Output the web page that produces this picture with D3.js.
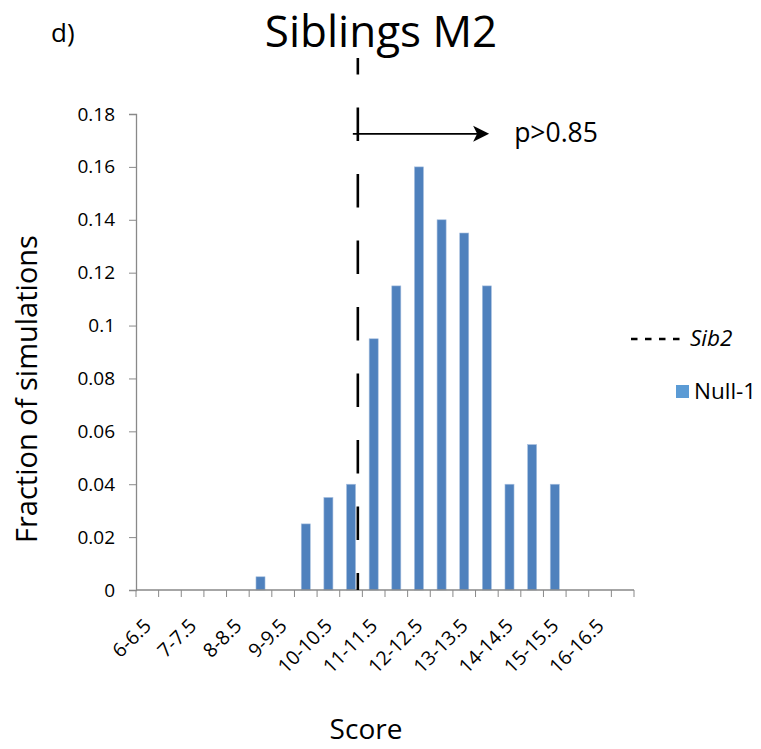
<!DOCTYPE html>
<html>
<head>
<meta charset="utf-8">
<script src="https://cdn.jsdelivr.net/npm/d3@7"></script>
<style>
  body { margin: 0; background: #fff; }
  text { font-family: "Open Sans", sans-serif; fill: #000; }
</style>
</head>
<body>
<script>
// score bins (width 0.5) and fraction of simulations
var bins = ["6-6.5","6.5-7","7-7.5","7.5-8","8-8.5","8.5-9","9-9.5","9.5-10","10-10.5","10.5-11",
            "11-11.5","11.5-12","12-12.5","12.5-13","13-13.5","13.5-14","14-14.5","14.5-15",
            "15-15.5","15.5-16","16-16.5","16.5-17"];
var null1 = [0,0,0,0,0,0.005,0,0.025,0.035,0.04,
             0.095,0.115,0.16,0.14,0.135,0.115,0.04,0.055,
             0.04,0,0,0];
var yTicks = [0,0.02,0.04,0.06,0.08,0.1,0.12,0.14,0.16,0.18];
var yTickLabels = ["0","0.02","0.04","0.06","0.08","0.1","0.12","0.14","0.16","0.18"];
var sib2Score = 10.9;     // observed sibling score (dashed line)
var arrowEndScore = 13.8; // end of the p-value arrow
var pLabel = "p>0.85";

var W = 761, H = 749;
var margin = {top: 114, left: 136},
    width = 498,
    height = 476;

var svg = d3.select("body").append("svg")
    .attr("width", W)
    .attr("height", H);

var g = svg.append("g")
    .attr("transform", "translate(" + margin.left + "," + margin.top + ")");

var x = d3.scaleBand()
    .domain(bins)
    .range([0, width])
    .paddingInner(0.6)
    .paddingOuter(0.3);
var xScore = d3.scaleLinear().domain([6, 17]).range([0, width]);
var y = d3.scaleLinear().domain([0, 0.18]).range([height, 0]);

// bars
g.selectAll("rect.bar").data(bins)
    .enter().append("rect")
    .attr("class", "bar")
    .attr("x", function(d) { return x(d); })
    .attr("width", x.bandwidth())
    .attr("y", function(d, i) { return y(null1[i]); })
    .attr("height", function(d, i) { return height - y(null1[i]); })
    .attr("fill", "#4F81BD")
    .attr("stroke", "#a9c1e0")
    .attr("stroke-width", 0.6);

// y axis
var yAxis = g.append("g")
    .call(d3.axisLeft(y).tickValues(yTicks)
        .tickFormat(function(d, i) { return yTickLabels[i]; })
        .tickSize(7).tickPadding(14));
yAxis.select(".domain").attr("stroke", "#898989").attr("stroke-width", 1.3);
yAxis.selectAll(".tick line").attr("stroke", "#898989");
yAxis.selectAll("text").style("font-size", "19px");

// x axis: ticks at bin edges, labels every other bin
var xAxis = g.append("g").attr("transform", "translate(0," + height + ")");
xAxis.append("line").attr("x1", 0).attr("x2", width)
    .attr("stroke", "#898989").attr("stroke-width", 1.3);
xAxis.selectAll("line.tk").data(d3.range(bins.length + 1))
    .enter().append("line")
    .attr("class", "tk")
    .attr("x1", function(i) { return xScore(6 + i * 0.5); })
    .attr("x2", function(i) { return xScore(6 + i * 0.5); })
    .attr("y1", 0).attr("y2", 7)
    .attr("stroke", "#898989");
xAxis.selectAll("text").data(bins.filter(function(d, i) { return i % 2 === 0; }))
    .enter().append("text")
    .attr("text-anchor", "end")
    .style("font-size", "19.5px")
    .attr("transform", function(d) {
        var cx = x(d) + x.bandwidth() / 2 + 5;
        return "translate(" + cx + ",37) rotate(-45)";
    })
    .text(function(d) { return d; });

// dashed Sib2 line
var sx = xScore(sib2Score);
g.append("line")
    .attr("x1", sx).attr("x2", sx)
    .attr("y1", -56).attr("y2", height)
    .attr("stroke", "#000").attr("stroke-width", 2.6)
    .attr("stroke-dasharray", "33.5,33")
    .attr("stroke-dashoffset", 17);

// arrow
var ay = y(0.1725), ax2 = xScore(arrowEndScore);
g.append("line")
    .attr("x1", sx - 5).attr("x2", ax2 - 12)
    .attr("y1", ay).attr("y2", ay)
    .attr("stroke", "#000").attr("stroke-width", 1.8);
g.append("path")
    .attr("d", "M" + (ax2 - 16) + "," + (ay - 8) + " L" + ax2 + "," + ay +
               " L" + (ax2 - 16) + "," + (ay + 8) + " L" + (ax2 - 12) + "," + ay + " Z")
    .attr("fill", "#000");
g.append("text")
    .attr("x", ax2 + 25).attr("y", ay + 8)
    .style("font-size", "26.5px")
    .text(pLabel);

// titles
svg.append("text").attr("x", 51).attr("y", 42).style("font-size", "26px").text("d)");
svg.append("text").attr("x", 381).attr("y", 47).attr("text-anchor", "middle")
    .style("font-size", "44px").text("Siblings M2");
svg.append("text").attr("x", 366).attr("y", 739).attr("text-anchor", "middle")
    .style("font-size", "28px").text("Score");
svg.append("text")
    .attr("transform", "translate(37,389) rotate(-90)")
    .attr("text-anchor", "middle")
    .style("font-size", "29px").text("Fraction of simulations");

// legend
var lg = svg.append("g");
lg.append("line").attr("x1", 631).attr("x2", 684).attr("y1", 339).attr("y2", 339)
    .attr("stroke", "#000").attr("stroke-width", 2.6).attr("stroke-dasharray", "6.5,7.5");
lg.append("text").attr("x", 690).attr("y", 346).style("font-size", "22.5px")
    .style("font-style", "italic").text("Sib2");
lg.append("rect").attr("x", 676).attr("y", 385).attr("width", 13).attr("height", 13)
    .attr("fill", "#5B9BD5");
lg.append("text").attr("x", 694).attr("y", 399).style("font-size", "22.5px").text("Null-1");
</script>
</body>
</html>
